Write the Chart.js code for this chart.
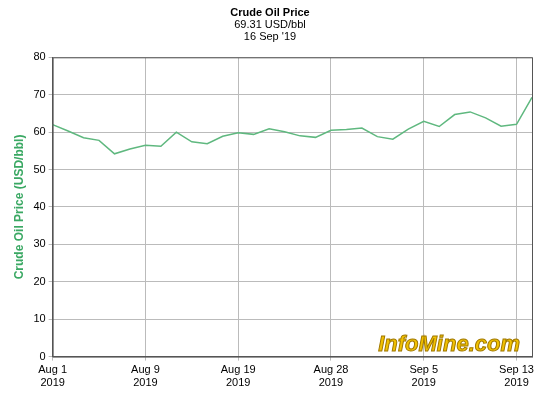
<!DOCTYPE html>
<html><head><meta charset="utf-8">
<script src="https://cdn.jsdelivr.net/npm/chart.js@4"></script>
<style>body{margin:0;background:#fff}#wrap{width:548px;height:403px}</style>
</head><body><div id="wrap"><canvas id="c"></canvas></div>
<script>
const dates = ['Aug 1','Aug 2','Aug 5','Aug 6','Aug 7','Aug 8','Aug 9','Aug 12','Aug 13','Aug 14','Aug 15','Aug 16','Aug 19','Aug 20','Aug 21','Aug 22','Aug 23','Aug 26','Aug 28','Aug 29','Aug 30','Sep 2','Sep 3','Sep 4','Sep 5','Sep 6','Sep 9','Sep 10','Sep 11','Sep 12','Sep 13','Sep 16'];
const prices = [62,60.3,58.5,57.8,54.2,55.5,56.5,56.2,60,57.4,56.9,58.9,59.8,59.4,60.9,60.1,59,58.6,60.5,60.7,61.1,58.8,58.1,60.8,62.9,61.5,64.7,65.4,63.8,61.6,62.1,69.31];
const shownTicks = [0,6,12,18,24,30];

const frame = {
  id:'frame',
  afterDraw(ch){
    const a = ch.chartArea, g = ch.ctx;
    g.save();
    g.strokeStyle='#555'; g.lineWidth=1;
    g.strokeRect(a.left+0.5,a.top+0.5,a.right-a.left,a.bottom-a.top);
    g.font='bold italic 22px Arial, "Liberation Sans"';
    g.fillStyle='#f2c200'; g.strokeStyle='#a07800'; g.lineWidth=1;
    g.textAlign='right';
    g.fillText('InfoMine.com',a.right-12,a.bottom-6);
    g.strokeText('InfoMine.com',a.right-12,a.bottom-6);
    g.restore();
  }
};

new Chart(document.getElementById('c'),{
  type:'line',
  data:{labels:dates,datasets:[{data:prices,borderColor:'#5fb87f',borderWidth:1.5,pointRadius:0,tension:0,fill:false}]},
  options:{
    responsive:true,maintainAspectRatio:false,animation:false,
    layout:{padding:{top:0,right:16,left:8,bottom:10}},
    plugins:{
      legend:{display:false},tooltip:{enabled:false},
      title:{display:true,text:'Crude Oil Price',color:'#000',
        font:{family:'Arial, "Liberation Sans"',size:11,weight:'bold',lineHeight:1.1},padding:{top:7,bottom:0}},
      subtitle:{display:true,text:['69.31 USD/bbl',"16 Sep '19"],color:'#000',
        font:{family:'Arial, "Liberation Sans"',size:11,lineHeight:1.1},padding:{top:0,bottom:14}}
    },
    scales:{
      x:{offset:false,
        grid:{color:ctx=>shownTicks.includes(ctx.index)?'#bbb':'rgba(0,0,0,0)',drawTicks:true,tickLength:4},
        border:{color:'#555'},
        ticks:{autoSkip:false,maxRotation:0,color:'#000',font:{family:'Arial, "Liberation Sans"',size:11},
          callback:(v,i)=>shownTicks.includes(i)?[dates[i],'2019']:''}},
      y:{min:0,max:80,
        grid:{color:'#bbb',tickLength:4},border:{color:'#555'},
        ticks:{stepSize:10,color:'#000',font:{family:'Arial, "Liberation Sans"',size:11}},
        title:{display:true,text:'Crude Oil Price (USD/bbl)',color:'#3aa863',font:{family:'Arial, "Liberation Sans"',size:12,weight:'bold'}}}
    }
  },
  plugins:[frame]
});
</script></body></html>
